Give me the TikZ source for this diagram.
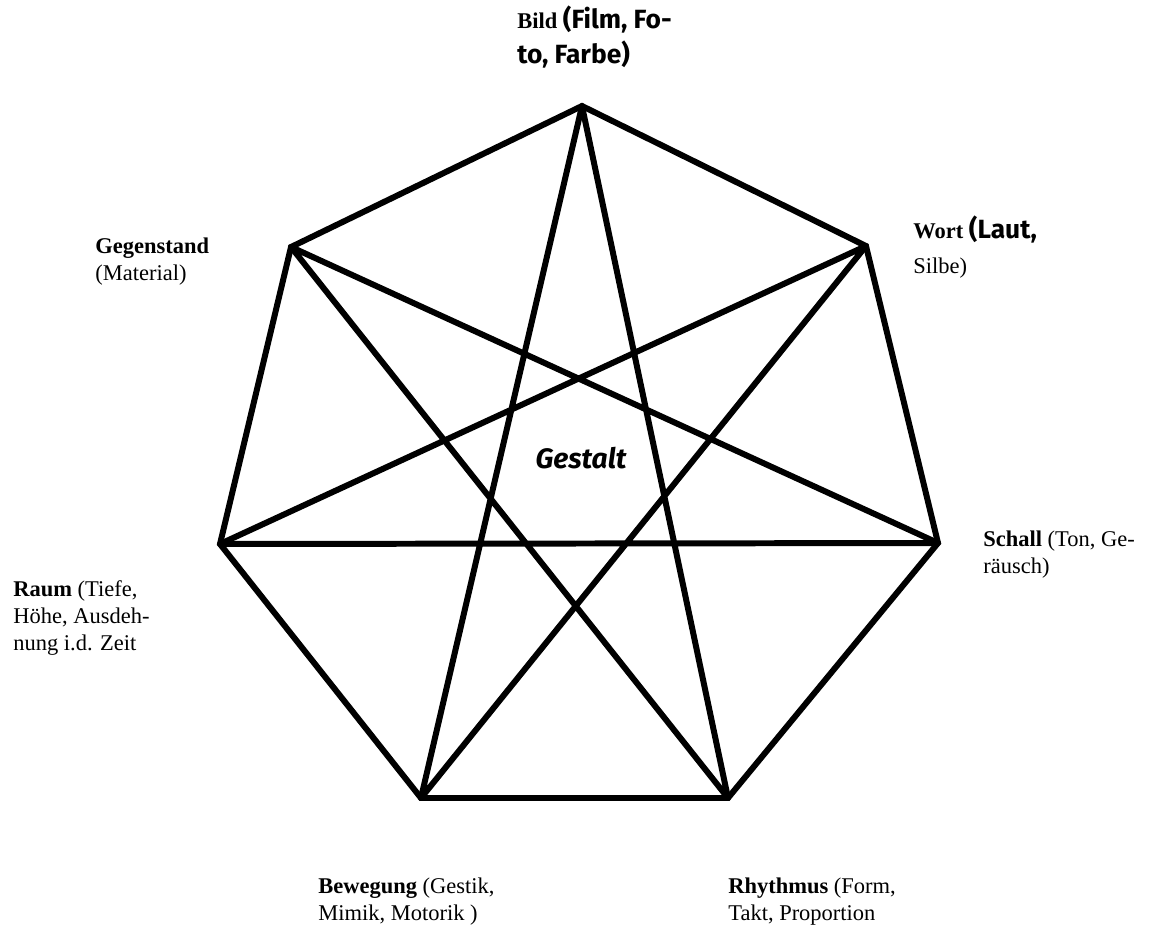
\documentclass[tikz,border=0pt]{standalone}
\usepackage{fontspec}
\setmainfont{Liberation Serif}
\newfontfamily\comicfont{Fira Sans}
\newcommand{\cmcbf}{\comicfont\bfseries\fontsize{15}{19.6}\selectfont}
\usetikzlibrary{positioning}

\begin{document}
\begin{tikzpicture}[x=0.02cm,y=-0.02cm,
  edge/.style={line width=3.4pt, line join=miter, draw=black},
  star/.style={line width=3.4pt, line join=round, draw=black},
  lbl/.style={anchor=base west, align=left, inner sep=0pt,
              font=\fontsize{12.8}{15.2}\selectfont},
  cmc/.style={lbl, font=\fontsize{12.8}{19.6}\selectfont}
]
  \useasboundingbox (0,0) rectangle (1150,937);

  %% corners of the heptagon
  \coordinate (bild) at (582,106);
  \coordinate (wort) at (866,246);
  \coordinate (schall) at (938,543);
  \coordinate (rhythmus) at (728,798);
  \coordinate (bewegung) at (421,798);
  \coordinate (raum) at (220,544);
  \coordinate (gegenstand) at (291,247);

  %% outline and star
  \draw[edge] (bild) -- (wort) -- (schall) -- (rhythmus) -- (bewegung)
    -- (raum) -- (gegenstand) -- cycle;
  \draw[star] (bild) -- (rhythmus) -- (gegenstand) -- (schall) -- (raum)
    -- (wort) -- (bewegung) -- cycle;

  %% labels (anchored at the baseline of their last line)
  \node[cmc] (lbild) at (517,63)
    {\textbf{Bild} {\cmcbf (Film, Fo-}\\{\cmcbf to, Farbe)}};
  \node[cmc] (lwort) at (913,273)
    {\textbf{Wort} {\cmcbf (Laut,}\\Silbe)};
  \node[lbl] (lgegen) at (95,280) {\textbf{Gegenstand}\\(Material)};
  \node[lbl] (lschall) at (983,573) {\textbf{Schall} (Ton, Ge-\\räusch)};
  \node[lbl] (lraum) at (13,650)
    {\textbf{Raum} (Tiefe,\\Höhe, Ausdeh-\\nung i.d. Zeit};
  \node[lbl] (lbeweg) at (318,920) {\textbf{Bewegung} (Gestik,\\Mimik, Motorik )};
  \node[lbl] (lrhyth) at (728,920) {\textbf{Rhythmus} (Form,\\Takt, Proportion};
  \node[font=\comicfont\fontsize{16}{18}\selectfont\bfseries\itshape, inner sep=0pt]
    (gestalt) at (581,458) {Gestalt};
\end{tikzpicture}
\end{document}
